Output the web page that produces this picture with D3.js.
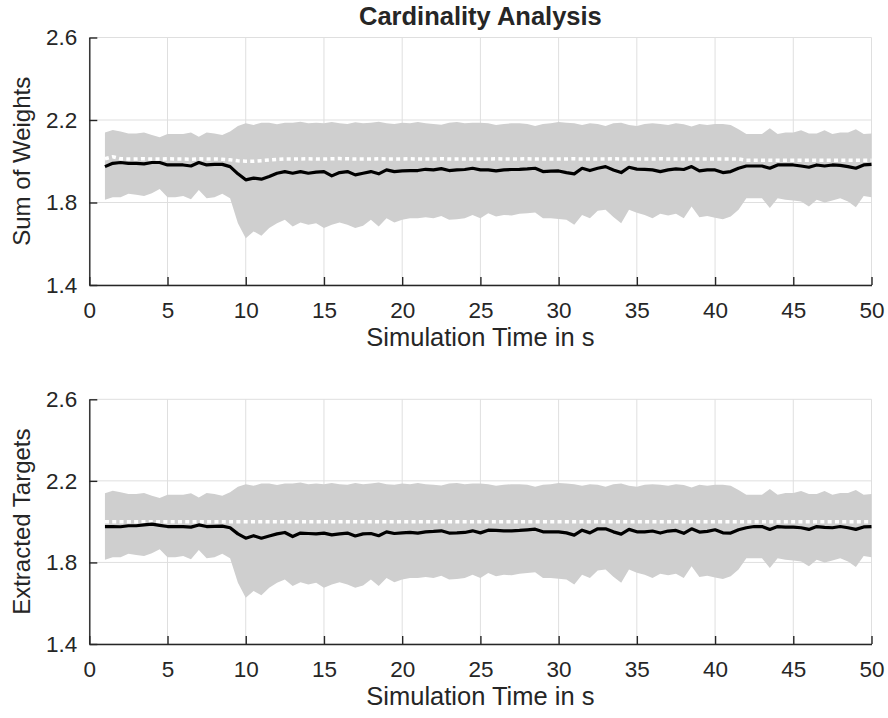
<!DOCTYPE html>
<html>
<head>
<meta charset="utf-8">
<script src="https://cdn.jsdelivr.net/npm/d3@7"></script>
<style>
  html, body { margin: 0; padding: 0; background: #ffffff; }
  svg { display: block; }
  text { font-family: "Liberation Sans", Arial, Helvetica, sans-serif; fill: #262626; }
</style>
</head>
<body>
<script>
// ---------------- DATA ----------------
const times = [
  1, 1.5, 2, 2.5, 3, 3.5, 4, 4.5, 5, 5.5, 6, 6.5, 7, 7.5, 8, 8.5, 9, 9.5, 10, 10.5,
  11, 11.5, 12, 12.5, 13, 13.5, 14, 14.5, 15, 15.5, 16, 16.5, 17, 17.5, 18, 18.5, 19, 19.5, 20, 20.5,
  21, 21.5, 22, 22.5, 23, 23.5, 24, 24.5, 25, 25.5, 26, 26.5, 27, 27.5, 28, 28.5, 29, 29.5, 30, 30.5,
  31, 31.5, 32, 32.5, 33, 33.5, 34, 34.5, 35, 35.5, 36, 36.5, 37, 37.5, 38, 38.5, 39, 39.5, 40, 40.5,
  41, 41.5, 42, 42.5, 43, 43.5, 44, 44.5, 45, 45.5, 46, 46.5, 47, 47.5, 48, 48.5, 49, 49.5, 50
];

// upper / lower bound of the grey band (sum of weights)
const weightsUpper = [
  2.139, 2.152, 2.144, 2.135, 2.135, 2.140, 2.127, 2.116, 2.132, 2.132, 2.132, 2.139, 2.119, 2.140, 2.135, 2.127, 2.144, 2.171, 2.184, 2.176,
  2.187, 2.187, 2.180, 2.187, 2.187, 2.192, 2.184, 2.187, 2.184, 2.190, 2.184, 2.181, 2.189, 2.184, 2.187, 2.192, 2.184, 2.181, 2.187, 2.184,
  2.190, 2.184, 2.181, 2.177, 2.187, 2.190, 2.184, 2.187, 2.187, 2.184, 2.176, 2.181, 2.184, 2.184, 2.181, 2.171, 2.181, 2.184, 2.190, 2.187,
  2.184, 2.176, 2.184, 2.181, 2.171, 2.184, 2.187, 2.176, 2.171, 2.181, 2.184, 2.181, 2.176, 2.184, 2.180, 2.168, 2.181, 2.176, 2.181, 2.181,
  2.176, 2.155, 2.132, 2.132, 2.132, 2.160, 2.132, 2.140, 2.140, 2.150, 2.135, 2.135, 2.150, 2.132, 2.140, 2.140, 2.155, 2.132, 2.135
];
const weightsLower = [
  1.813, 1.826, 1.826, 1.842, 1.837, 1.832, 1.845, 1.865, 1.826, 1.826, 1.832, 1.816, 1.861, 1.821, 1.826, 1.842, 1.821, 1.700, 1.627, 1.660,
  1.639, 1.676, 1.700, 1.716, 1.684, 1.703, 1.692, 1.700, 1.676, 1.692, 1.703, 1.692, 1.676, 1.687, 1.716, 1.684, 1.724, 1.703, 1.716, 1.724,
  1.724, 1.729, 1.724, 1.735, 1.716, 1.719, 1.724, 1.740, 1.724, 1.748, 1.732, 1.740, 1.737, 1.745, 1.748, 1.752, 1.724, 1.724, 1.720, 1.716,
  1.692, 1.740, 1.724, 1.760, 1.765, 1.730, 1.700, 1.765, 1.750, 1.740, 1.724, 1.745, 1.737, 1.745, 1.724, 1.781, 1.729, 1.735, 1.726, 1.719,
  1.732, 1.765, 1.821, 1.821, 1.821, 1.773, 1.821, 1.813, 1.810, 1.805, 1.781, 1.813, 1.800, 1.810, 1.821, 1.805, 1.777, 1.832, 1.826
];
const weightsMean = [
  1.974, 1.990, 1.994, 1.990, 1.990, 1.987, 1.994, 1.994, 1.982, 1.982, 1.982, 1.977, 1.994, 1.982, 1.985, 1.985, 1.974, 1.939, 1.910, 1.918,
  1.913, 1.926, 1.942, 1.950, 1.942, 1.950, 1.942, 1.947, 1.950, 1.929, 1.945, 1.950, 1.934, 1.942, 1.950, 1.939, 1.958, 1.950, 1.953, 1.955,
  1.955, 1.961, 1.958, 1.964, 1.955, 1.958, 1.960, 1.966, 1.958, 1.958, 1.953, 1.958, 1.960, 1.961, 1.963, 1.966, 1.950, 1.952, 1.953, 1.945,
  1.939, 1.966, 1.955, 1.966, 1.974, 1.958, 1.945, 1.971, 1.962, 1.961, 1.958, 1.950, 1.958, 1.963, 1.960, 1.974, 1.953, 1.958, 1.958, 1.945,
  1.950, 1.966, 1.977, 1.977, 1.977, 1.966, 1.982, 1.982, 1.982, 1.977, 1.971, 1.982, 1.977, 1.982, 1.980, 1.974, 1.966, 1.982, 1.985
];
const weightsTruth = [
  2.012, 2.022, 2.012, 2.011, 2.011, 2.012, 2.011, 2.011, 2.012, 2.011, 2.011, 2.010, 2.012, 2.011, 2.011, 2.010, 2.007, 2.002, 2.000, 2.000,
  2.003, 2.006, 2.009, 2.011, 2.011, 2.011, 2.012, 2.011, 2.011, 2.012, 2.013, 2.012, 2.011, 2.011, 2.011, 2.012, 2.011, 2.011, 2.011, 2.012,
  2.011, 2.011, 2.011, 2.012, 2.011, 2.011, 2.011, 2.011, 2.011, 2.011, 2.012, 2.011, 2.011, 2.011, 2.012, 2.011, 2.011, 2.011, 2.011, 2.011,
  2.012, 2.011, 2.011, 2.011, 2.011, 2.012, 2.011, 2.011, 2.011, 2.011, 2.011, 2.012, 2.011, 2.011, 2.011, 2.011, 2.011, 2.011, 2.011, 2.011,
  2.011, 2.011, 2.005, 2.005, 2.005, 2.005, 2.005, 2.005, 2.005, 2.005, 2.005, 2.005, 2.005, 2.005, 2.005, 2.005, 2.005, 2.005, 2.005
];

// extracted targets (band bounds read as identical to the upper panel)
const targetsUpper = weightsUpper;
const targetsLower = weightsLower;
const targetsMean = [
  1.976, 1.976, 1.975, 1.980, 1.980, 1.984, 1.988, 1.982, 1.976, 1.976, 1.976, 1.973, 1.984, 1.976, 1.977, 1.978, 1.970, 1.940, 1.919, 1.931,
  1.919, 1.930, 1.940, 1.947, 1.927, 1.944, 1.942, 1.940, 1.944, 1.935, 1.940, 1.944, 1.930, 1.940, 1.942, 1.931, 1.950, 1.942, 1.945, 1.947,
  1.944, 1.950, 1.952, 1.955, 1.944, 1.945, 1.947, 1.955, 1.945, 1.958, 1.957, 1.955, 1.955, 1.957, 1.960, 1.963, 1.950, 1.950, 1.950, 1.945,
  1.934, 1.958, 1.945, 1.965, 1.965, 1.950, 1.939, 1.962, 1.950, 1.950, 1.954, 1.944, 1.954, 1.957, 1.943, 1.965, 1.949, 1.952, 1.960, 1.945,
  1.944, 1.960, 1.970, 1.976, 1.976, 1.962, 1.976, 1.973, 1.973, 1.970, 1.962, 1.976, 1.972, 1.970, 1.976, 1.970, 1.962, 1.974, 1.976
];
const targetsTruth = [
  2, 2, 2, 2, 2, 2, 2, 2, 2, 2, 2, 2, 2, 2, 2, 2, 2, 2, 2, 2,
  2, 2, 2, 2, 2, 2, 2, 2, 2, 2, 2, 2, 2, 2, 2, 2, 2, 2, 2, 2,
  2, 2, 2, 2, 2, 2, 2, 2, 2, 2, 2, 2, 2, 2, 2, 2, 2, 2, 2, 2,
  2, 2, 2, 2, 2, 2, 2, 2, 2, 2, 2, 2, 2, 2, 2, 2, 2, 2, 2, 2,
  2, 2, 2, 2, 2, 2, 2, 2, 2, 2, 2, 2, 2, 2, 2, 2, 2, 2, 2
];

const xTicks = [0, 5, 10, 15, 20, 25, 30, 35, 40, 45, 50];
const yTicks = [1.4, 1.8, 2.2, 2.6];
const titleText = "Cardinality Analysis";
const xLabelText = "Simulation Time in s";
const yLabels = ["Sum of Weights", "Extracted Targets"];

// ---------------- DRAWING ----------------
const W = 888, H = 718;
const svg = d3.select("body").append("svg").attr("width", W).attr("height", H);

const left = 89.3, right = 871.5;
const panels = [
  { top: 37.5, bottom: 285, upper: weightsUpper, lower: weightsLower, mean: weightsMean, truth: weightsTruth, ylabel: yLabels[0] },
  { top: 399.3, bottom: 644, upper: targetsUpper, lower: targetsLower, mean: targetsMean, truth: targetsTruth, ylabel: yLabels[1] }
];

const x = d3.scaleLinear().domain([0, 50]).range([left, right]);
const fmtY = d3.format(".1f");

panels.forEach((p, i) => {
  const y = d3.scaleLinear().domain([1.4, 2.6]).range([p.bottom, p.top]);
  const g = svg.append("g");

  // grid
  g.append("g").selectAll("line").data(xTicks).join("line")
    .attr("x1", d => x(d)).attr("x2", d => x(d))
    .attr("y1", p.top).attr("y2", p.bottom)
    .attr("stroke", "#dfdfdf").attr("stroke-width", 1);
  g.append("g").selectAll("line").data(yTicks).join("line")
    .attr("x1", left).attr("x2", right)
    .attr("y1", d => y(d)).attr("y2", d => y(d))
    .attr("stroke", "#dfdfdf").attr("stroke-width", 1);

  // band
  const area = d3.area()
    .x((d, j) => x(times[j]))
    .y0((d, j) => y(p.lower[j]))
    .y1((d, j) => y(p.upper[j]));
  g.append("path").datum(times).attr("d", area).attr("fill", "#cfcfcf").attr("stroke", "none");

  // truth (white dotted)
  const lineT = d3.line().x((d, j) => x(times[j])).y((d, j) => y(p.truth[j]));
  g.append("path").datum(times).attr("d", lineT)
    .attr("fill", "none").attr("stroke", "#ffffff").attr("stroke-width", 3.5)
    .attr("stroke-dasharray", "4,3.3");

  // mean (black)
  const lineM = d3.line().x((d, j) => x(times[j])).y((d, j) => y(p.mean[j]));
  g.append("path").datum(times).attr("d", lineM)
    .attr("fill", "none").attr("stroke", "#000000").attr("stroke-width", 3.2)
    .attr("stroke-linejoin", "round");

  // axes
  const xAxis = d3.axisBottom(x).tickValues(xTicks).tickSizeInner(-8).tickSizeOuter(0).tickPadding(17);
  const gx = g.append("g").attr("transform", `translate(0,${p.bottom})`).call(xAxis);
  const yAxis = d3.axisLeft(y).tickValues(yTicks).tickFormat(fmtY).tickSizeInner(-8).tickSizeOuter(0).tickPadding(12);
  const gy = g.append("g").attr("transform", `translate(${left},0)`).call(yAxis);
  [gx, gy].forEach(a => {
    a.select(".domain").attr("stroke", "#262626").attr("stroke-width", 1.4);
    a.selectAll(".tick line").attr("stroke", "#262626").attr("stroke-width", 1.4);
    a.selectAll(".tick text").attr("fill", "#262626")
      .style("font-family", '"Liberation Sans", Arial, sans-serif').style("font-size", "22.5px");
  });

  // labels
  g.append("text").attr("x", (left + right) / 2).attr("y", p.bottom + 61)
    .attr("text-anchor", "middle").style("font-size", "25.5px").text(xLabelText);
  g.append("text")
    .attr("transform", `translate(30,${(p.top + p.bottom) / 2}) rotate(-90)`)
    .attr("text-anchor", "middle").style("font-size", "24px").text(p.ylabel);
});

svg.append("text").attr("x", (left + right) / 2).attr("y", 25)
  .attr("text-anchor", "middle").style("font-size", "25.5px").style("font-weight", "bold").text(titleText);
</script>
</body>
</html>
